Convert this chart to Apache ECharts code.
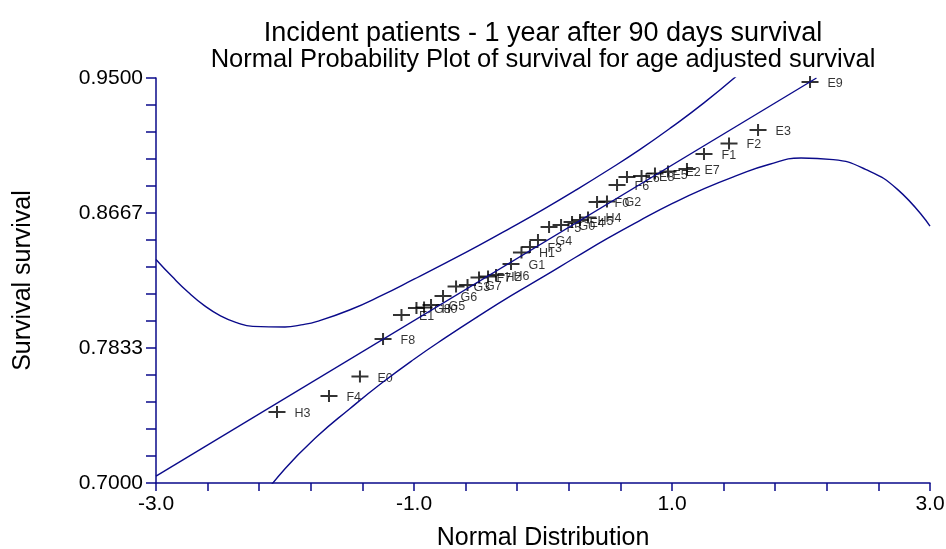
<!DOCTYPE html>
<html>
<head>
<meta charset="utf-8">
<script src="https://cdn.jsdelivr.net/npm/echarts@6/dist/echarts.min.js"></script>
<style>
html,body{margin:0;padding:0;background:#fff;}
#chart{width:946px;height:549px;}
</style>
</head>
<body>
<div id="chart"></div>
<script>
// ---- data ----
const pointIds = ['H3','F4','E0','F8','E1','G8','H0','G5','G6','G3','G7','F7','H2','H6','G1','H1','F3','G4','F5','G0','E4','H5','H4','F0','G2','F6','E6','E8','E5','E2','E7','F1','F2','E3','E9'];
const normalScores = [-2.062,-1.659,-1.419,-1.240,-1.097,-0.981,-0.922,-0.868,-0.775,-0.674,-0.585,-0.496,-0.426,-0.364,-0.248,-0.167,-0.101,-0.039,0.047,0.140,0.225,0.287,0.349,0.419,0.496,0.574,0.651,0.764,0.868,0.969,1.116,1.248,1.442,1.667,2.070];
const survival = [0.7438,0.7537,0.7657,0.7889,0.8037,0.8080,0.8083,0.8099,0.8154,0.8213,0.8222,0.8269,0.8275,0.8284,0.8352,0.8423,0.8457,0.8500,0.8580,0.8593,0.8611,0.8623,0.8639,0.8735,0.8738,0.8840,0.8889,0.8895,0.8910,0.8923,0.8938,0.9031,0.9096,0.9179,0.9475];

const fitX = [-3.0, 2.12];
const fitY = [0.7043, 0.9500];

const upperX = [-3.0,-2.875,-2.75,-2.625,-2.5,-2.375,-2.25,-2.0,-1.875,-1.75,-1.5,-1.25,-1.0,-0.75,-0.5,-0.25,0.0,0.25,0.5,0.75,1.0,1.25,1.5,1.75];
const upperY = [0.8380,0.8274,0.8177,0.8095,0.8032,0.7990,0.7967,0.7963,0.7976,0.7998,0.8068,0.8158,0.8258,0.8360,0.8465,0.8575,0.8688,0.8806,0.8929,0.9058,0.9198,0.9348,0.9512,0.9690];

const lowerX = [-2.25,-2.0,-1.75,-1.5,-1.25,-1.0,-0.75,-0.5,-0.25,0.0,0.25,0.5,0.75,1.0,1.25,1.5,1.75,2.0,2.25,2.5,2.75,3.0];
const lowerY = [0.6838,0.7088,0.7288,0.7457,0.7617,0.7764,0.7900,0.8030,0.8155,0.8272,0.8392,0.8510,0.8620,0.8724,0.8817,0.8897,0.8966,0.9006,0.8996,0.8936,0.8811,0.8586];

const xTickValues = [-3.0,-2.6,-2.2,-1.8,-1.4,-1.0,-0.6,-0.2,0.2,0.6,1.0,1.4,1.8,2.2,2.6,3.0];
const xLabelValues = [-3.0,-1.0,1.0,3.0];
const yTickValues = [0.7,0.716667,0.733333,0.75,0.766667,0.783333,0.8,0.816667,0.833333,0.85,0.866667,0.883333,0.9,0.916667,0.933333,0.95];
const yLabelValues = [0.7,0.783333,0.866667,0.95];

const titleText = 'Incident patients - 1 year after 90 days survival';
const subtitleText = 'Normal Probability Plot of survival for age adjusted survival';
const xName = 'Normal Distribution';
const yName = 'Survival survival';

// ---- build ----
const pair = (xs, ys) => xs.map((x, i) => [x, ys[i]]);
const NAVY = '#0a0a8a';
const FONT = "'Liberation Sans', Arial, sans-serif";

const chart = echarts.init(document.getElementById('chart'), null, {renderer: 'canvas'});
chart.setOption({
  animation: false,
  backgroundColor: '#ffffff',
  title: [
    {text: titleText, left: 543, top: 20, textAlign: 'center', padding: 0,
     textStyle: {fontFamily: FONT, fontSize: 27, fontWeight: 'normal', color: '#000'}},
    {text: subtitleText, left: 543, top: 47, textAlign: 'center', padding: 0,
     textStyle: {fontFamily: FONT, fontSize: 25.5, fontWeight: 'normal', color: '#000'}}
  ],
  grid: {left: 156, right: 16, top: 78, bottom: 66, containLabel: false, outerBoundsMode: 'none'},
  xAxis: {
    type: 'value', min: -3, max: 3,
    name: xName, nameLocation: 'middle', nameGap: 43,
    nameTextStyle: {fontFamily: FONT, fontSize: 25, color: '#000'},
    axisLine: {show: true, onZero: false, lineStyle: {color: NAVY, width: 1.5}},
    axisTick: {show: true, length: 8, customValues: xTickValues, lineStyle: {color: NAVY, width: 1.5}},
    axisLabel: {customValues: xLabelValues, margin: 11, fontFamily: FONT, fontSize: 21, color: '#000',
      formatter: v => v.toFixed(1)},
    splitLine: {show: false}
  },
  yAxis: {
    type: 'value', min: 0.7, max: 0.95,
    name: yName, nameLocation: 'middle', nameGap: 120,
    nameTextStyle: {fontFamily: FONT, fontSize: 25, color: '#000'},
    axisLine: {show: true, onZero: false, lineStyle: {color: NAVY, width: 1.5}},
    axisTick: {show: true, length: 10, customValues: yTickValues, lineStyle: {color: NAVY, width: 1.5}},
    axisLabel: {customValues: yLabelValues, margin: 13, fontFamily: FONT, fontSize: 21, color: '#000',
      formatter: v => v.toFixed(4)},
    splitLine: {show: false}
  },
  series: [
    {type: 'line', data: pair(fitX, fitY), symbol: 'none', clip: true,
     lineStyle: {color: NAVY, width: 1.4}, silent: true},
    {type: 'line', data: pair(upperX, upperY), symbol: 'none', smooth: true, clip: true,
     lineStyle: {color: NAVY, width: 1.4}, silent: true},
    {type: 'line', data: pair(lowerX, lowerY), symbol: 'none', smooth: true, clip: true,
     lineStyle: {color: NAVY, width: 1.4}, silent: true},
    {type: 'scatter', data: pair(normalScores, survival),
     symbol: 'path://M0,5H17V7H0Z M7.5,0H9.5V12H7.5Z', symbolSize: [17, 12],
     itemStyle: {color: '#000'},
     label: {show: true, position: 'right', distance: 9, offset: [0, 1.5],
       formatter: p => pointIds[p.dataIndex],
       fontFamily: FONT, fontSize: 12.5, color: '#000'}}
  ]
});
</script>
</body>
</html>
